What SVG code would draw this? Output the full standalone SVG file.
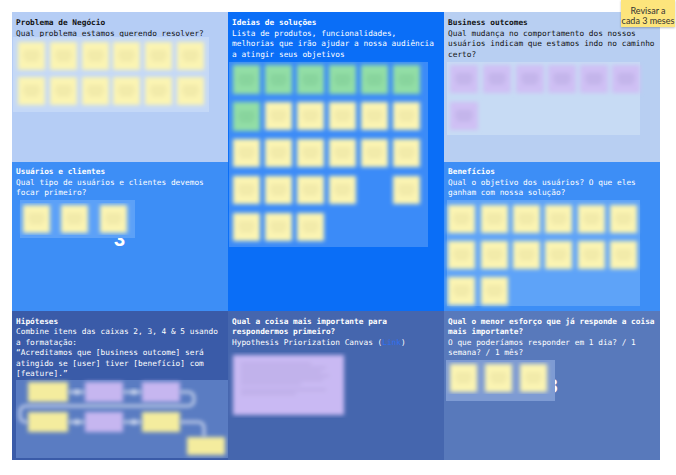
<svg xmlns="http://www.w3.org/2000/svg" xmlns:xlink="http://www.w3.org/1999/xlink" width="676" height="475" viewBox="0 0 676 475">
<defs>
<style>
.t{font-family:"DejaVu Sans Mono","Liberation Mono",monospace;font-size:7.8px}
.b{font-weight:bold}
.dk{fill:#111}
.wh{fill:#fff}
.dig{font-family:"Liberation Sans",Arial,sans-serif;font-size:20px;font-weight:bold;fill:#fff;text-anchor:middle}
.note{font-family:"Lato","Liberation Sans",sans-serif;font-size:9px;fill:#333;text-anchor:middle}
</style>
<filter id="blur" x="-5%" y="-5%" width="110%" height="110%"><feGaussianBlur stdDeviation="1.9"/></filter>
<filter id="shadow" x="-20%" y="-20%" width="140%" height="160%"><feDropShadow dx="0" dy="1" stdDeviation="1" flood-color="#000" flood-opacity="0.25"/></filter>
<g id="sy"><rect width="27" height="28" fill="#fbf4b2"/><rect x="6" y="9" width="15" height="1.5" fill="#e2d99c"/><rect x="5" y="13" width="17" height="1.5" fill="#e2d99c"/><rect x="7" y="17" width="13" height="1.5" fill="#e2d99c"/></g>
<g id="sg"><rect width="27" height="29" fill="#92dea6"/><rect x="6" y="10" width="15" height="1.5" fill="#78c38e"/><rect x="5" y="14" width="17" height="1.5" fill="#78c38e"/><rect x="7" y="18" width="13" height="1.5" fill="#78c38e"/></g>
<g id="sp"><rect width="28" height="28" fill="#cfc0f4"/><rect x="6" y="9" width="16" height="1.5" fill="#b0a2da"/><rect x="5" y="13" width="18" height="1.5" fill="#b0a2da"/><rect x="7" y="17" width="14" height="1.5" fill="#b0a2da"/></g>
</defs>

<!-- 1 Problema de Negócio -->
<g id="problema">
<rect x="12" y="12" width="216" height="150" fill="#b5cdf5"/>
<text class="t b dk" x="16" y="25">Problema de Negócio</text>
<text class="t dk" x="16" y="35.5">Qual problema estamos querendo resolver?</text>
<rect x="13" y="37" width="196" height="75" fill="#c4d8f7"/>
<g filter="url(#blur)">
<use href="#sy" x="18" y="42"/><use href="#sy" x="50" y="42"/><use href="#sy" x="82" y="42"/><use href="#sy" x="113" y="42"/><use href="#sy" x="145" y="42"/><use href="#sy" x="177" y="42"/>
<use href="#sy" x="18" y="77"/><use href="#sy" x="50" y="77"/><use href="#sy" x="82" y="77"/><use href="#sy" x="113" y="77"/><use href="#sy" x="145" y="77"/><use href="#sy" x="177" y="77"/>
</g>
</g>

<!-- 5 Ideias de soluções -->
<g id="ideias">
<rect x="228" y="12" width="216" height="299" fill="#0a6ef7"/>
<text class="t b wh" x="232" y="25">Ideias de soluções</text>
<text class="t wh" x="232" y="35.5">Lista de produtos, funcionalidades,</text>
<text class="t wh" x="232" y="46">melhorias que irão ajudar a nossa audiência</text>
<text class="t wh" x="232" y="56.5">a atingir seus objetivos</text>
<rect x="229" y="62" width="199" height="185" fill="#3b8bf8"/>
<g filter="url(#blur)">
<use href="#sg" x="233" y="65"/><use href="#sg" x="265" y="65"/><use href="#sg" x="297" y="65"/><use href="#sg" x="329" y="65"/><use href="#sg" x="361" y="65"/><use href="#sg" x="393" y="65"/>
<use href="#sg" x="233" y="102"/><use href="#sy" x="265" y="102"/><use href="#sy" x="297" y="102"/><use href="#sy" x="329" y="102"/><use href="#sy" x="361" y="102"/><use href="#sy" x="393" y="102"/>
<use href="#sy" x="233" y="139"/><use href="#sy" x="265" y="139"/><use href="#sy" x="297" y="139"/><use href="#sy" x="329" y="139"/><use href="#sy" x="361" y="139"/><use href="#sy" x="393" y="139"/>
<use href="#sy" x="233" y="176"/><use href="#sy" x="265" y="176"/><use href="#sy" x="297" y="176"/><use href="#sy" x="329" y="176"/><use href="#sy" x="393" y="176"/>
<use href="#sy" x="233" y="213"/><use href="#sy" x="265" y="213"/><use href="#sy" x="297" y="213"/>
</g>
</g>

<!-- 2 Business outcomes -->
<g id="business-outcomes">
<rect x="444" y="12" width="216" height="150" fill="#b8cff2"/>
<text class="t b dk" x="448" y="25">Business outcomes</text>
<text class="t dk" x="448" y="35.5">Qual mudança no comportamento dos nossos</text>
<text class="t dk" x="448" y="46">usuários indicam que estamos indo no caminho</text>
<text class="t dk" x="448" y="56.5">certo?</text>
<rect x="447" y="62" width="193" height="73" fill="#c7dbf4"/>
<g filter="url(#blur)">
<use href="#sp" x="450" y="65"/><use href="#sp" x="483" y="65"/><use href="#sp" x="516" y="65"/><use href="#sp" x="548" y="65"/><use href="#sp" x="580" y="65"/><use href="#sp" x="612" y="65"/>
<use href="#sp" x="450" y="102"/>
</g>
</g>

<!-- 3 Usuários e clientes -->
<g id="usuarios">
<rect x="12" y="162" width="216" height="149" fill="#3d8ef6"/>
<text class="t b wh" x="16" y="174">Usuários e clientes</text>
<text class="t wh" x="16" y="184.5">Qual tipo de usuários e clientes devemos</text>
<text class="t wh" x="16" y="195">focar primeiro?</text>
<text class="dig" x="119.5" y="245.5">3</text>
<rect x="20" y="200" width="115" height="38" fill="#5ca1f8"/>
<g filter="url(#blur)">
<use href="#sy" x="23" y="205"/><use href="#sy" x="61" y="205"/><use href="#sy" x="100" y="205"/>
</g>
</g>

<!-- 4 Benefícios -->
<g id="beneficios">
<rect x="444" y="162" width="216" height="149" fill="#3d8ef6"/>
<text class="t b wh" x="448" y="174">Benefícios</text>
<text class="t wh" x="448" y="184.5">Qual o objetivo dos usuários? O que eles</text>
<text class="t wh" x="448" y="195">ganham com nossa solução?</text>
<rect x="447" y="200" width="193" height="106" fill="#5ea3f8"/>
<g filter="url(#blur)">
<use href="#sy" x="448" y="205"/><use href="#sy" x="481" y="205"/><use href="#sy" x="513" y="205"/><use href="#sy" x="545" y="205"/><use href="#sy" x="578" y="205"/><use href="#sy" x="610" y="205"/>
<use href="#sy" x="448" y="241"/><use href="#sy" x="481" y="241"/><use href="#sy" x="513" y="241"/><use href="#sy" x="545" y="241"/><use href="#sy" x="578" y="241"/><use href="#sy" x="610" y="241"/>
<use href="#sy" x="448" y="277"/><use href="#sy" x="481" y="277"/>
</g>
</g>

<!-- 6 Hipóteses -->
<g id="hipoteses">
<rect x="12" y="311" width="216" height="149" fill="#3a5ba8"/>
<text class="t b wh" x="16" y="323.5">Hipóteses</text>
<text class="t wh" x="16" y="334">Combine itens das caixas 2, 3, 4 &amp; 5 usando</text>
<text class="t wh" x="16" y="344.5">a formatação:</text>
<text class="t wh" x="16" y="355">“Acreditamos que [business outcome] será</text>
<text class="t wh" x="16" y="365.5">atingido se [user] tiver [benefício] com</text>
<text class="t wh" x="16" y="376">[feature].”</text>
<rect x="16" y="380" width="212" height="78" fill="#5a7cc2"/>
<g filter="url(#blur)">
<rect x="28" y="382" width="40" height="20" fill="#f4ec9e"/>
<rect x="85" y="382" width="38" height="20" fill="#c6b6f0"/>
<rect x="142" y="382" width="38" height="20" fill="#c6b6f0"/>
<rect x="28" y="412" width="40" height="20" fill="#f4ec9e"/>
<rect x="85" y="412" width="38" height="20" fill="#c6b6f0"/>
<rect x="142" y="412" width="38" height="20" fill="#f4ec9e"/>
<rect x="187" y="437" width="38" height="18" fill="#f4ec9e"/>
</g>
</g>

<!-- 7 Qual a coisa mais importante -->
<g id="mais-importante">
<rect x="228" y="311" width="216" height="149" fill="#4566ae"/>
<text class="t b wh" x="232" y="323.5">Qual a coisa mais importante para</text>
<text class="t b wh" x="232" y="334">respondermos primeiro?</text>
<text class="t wh" x="232" y="344.5">Hypothesis Priorization Canvas (<tspan fill="#2f6ff0">Link</tspan>)</text>
<g filter="url(#blur)">
<rect x="233" y="355" width="111" height="60" fill="#c9b9f3"/>
<rect x="241" y="363" width="70" height="1.3" fill="#b0a2da"/>
<rect x="241" y="367" width="85" height="1.3" fill="#b0a2da"/>
<rect x="241" y="371" width="80" height="1.3" fill="#b0a2da"/>
<rect x="241" y="375" width="88" height="1.3" fill="#b0a2da"/>
<rect x="241" y="379" width="82" height="1.3" fill="#b0a2da"/>
<rect x="241" y="383" width="60" height="1.3" fill="#b0a2da"/>
<rect x="241" y="389" width="85" height="1.3" fill="#b0a2da"/>
<rect x="241" y="393" width="55" height="1.3" fill="#b0a2da"/>
</g>
</g>

<!-- 8 Menor esforço -->
<g id="menor-esforco">
<rect x="444" y="311" width="216" height="149" fill="#5879bb"/>
<text class="t b wh" x="448" y="323.5">Qual o menor esforço que já responde a coisa</text>
<text class="t b wh" x="448" y="334">mais importante?</text>
<text class="t wh" x="448" y="344.5">O que poderíamos responder em 1 dia? / 1</text>
<text class="t wh" x="448" y="355">semana? / 1 mês?</text>
<text class="dig" x="552" y="392.5">8</text>
<rect x="446" y="360" width="109" height="41" fill="#7e9bd3"/>
<g filter="url(#blur)">
<use href="#sy" x="450" y="364"/><use href="#sy" x="485" y="364"/><use href="#sy" x="520" y="364"/>
</g>
</g>

<!-- Nota -->
<g id="nota-revisar">
<rect x="621" y="0" width="54" height="27" fill="#fde57c" filter="url(#shadow)"/>
<text class="note" x="648" y="14">Revisar a</text>
<text class="note" x="648" y="24">cada 3 meses</text>
</g>

<!-- connectors (fluxo de hipóteses) -->
<g id="connectors" filter="url(#blur)" fill="none" stroke="#eef1fa" stroke-width="2">
<path d="M68,392 H85"/>
<path d="M123,392 H142"/>
<path d="M180,392 H188 Q194,392 194,398 V400 Q194,406 188,406 H26 Q20,406 20,412 V416 Q20,422 26,422 H28"/>
<path d="M68,422 H85"/>
<path d="M123,422 H142"/>
<path d="M180,422 H198 Q204,422 204,428 V437"/>
<circle cx="77" cy="392" r="2.5" fill="#eef1fa" stroke="none"/>
<circle cx="134" cy="392" r="2.5" fill="#eef1fa" stroke="none"/>
<circle cx="77" cy="422" r="2.5" fill="#eef1fa" stroke="none"/>
<circle cx="134" cy="422" r="2.5" fill="#eef1fa" stroke="none"/>
</g>
</svg>
